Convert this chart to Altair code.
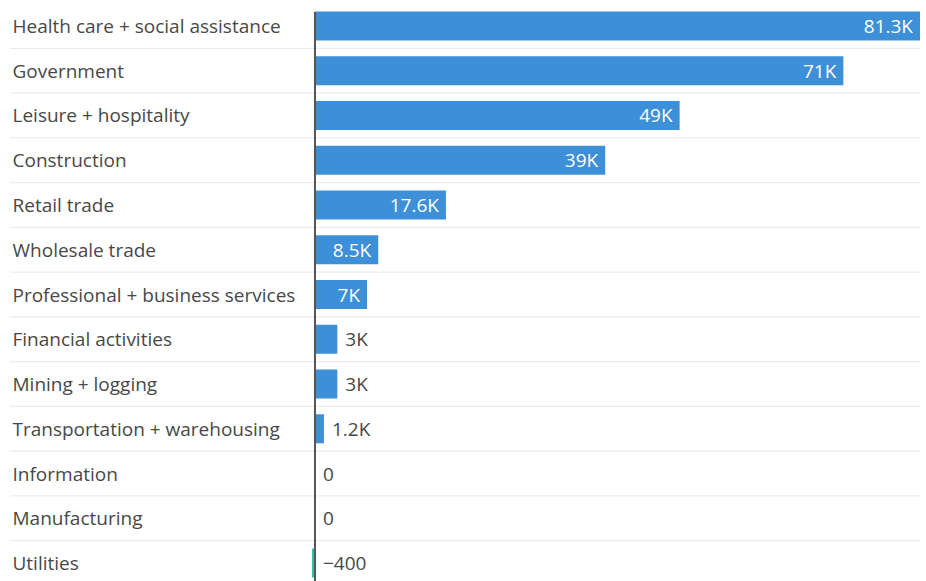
import altair as alt
import pandas as pd

industries = [
    "Health care + social assistance",
    "Government",
    "Leisure + hospitality",
    "Construction",
    "Retail trade",
    "Wholesale trade",
    "Professional + business services",
    "Financial activities",
    "Mining + logging",
    "Transportation + warehousing",
    "Information",
    "Manufacturing",
    "Utilities",
]
jobs = [81300, 71000, 49000, 39000, 17600, 8500, 7000, 3000, 3000, 1200, 0, 0, -400]
value_labels = ["81.3K", "71K", "49K", "39K", "17.6K", "8.5K", "7K", "3K", "3K", "1.2K", "0", "0", "\u2212400"]
inside = [True, True, True, True, True, True, True, False, False, False, False, False, False]

df = pd.DataFrame({
    "industry": industries,
    "jobs": jobs,
    "label": value_labels,
    "inside": inside,
})
df["pos"] = df["jobs"].clip(lower=0)
df["sign"] = df["jobs"].apply(lambda v: "neg" if v < 0 else "pos")
df["last"] = [i == len(industries) - 1 for i in range(len(industries))]

FONT = "Open Sans"
FS = 19
W = 608
H = 581

yscale = alt.Scale(domain=industries, range=[3.6, 585.4], paddingInner=0, paddingOuter=0)
xscale = alt.Scale(domain=[-400, 81300], nice=False, zero=False)

yaxis = alt.Axis(
    labelAlign="left",
    labelPadding=300,
    labelFont=FONT,
    labelFontSize=FS,
    labelColor="#484848",
    labelLimit=300,
    labelOffset=1,
    ticks=False,
    domain=False,
    grid=False,
    title=None,
)

base = alt.Chart(df)

seps = base.transform_filter("!datum.last").mark_rule(color="#e8e8e8", strokeWidth=1).encode(
    y=alt.Y("industry:N", sort=industries, scale=yscale, bandPosition=1, axis=yaxis),
    x=alt.value(-302),
    x2=alt.value(W),
)

bars = base.mark_bar(size=29).encode(
    y=alt.Y("industry:N", sort=industries, scale=yscale, axis=yaxis),
    x=alt.X("jobs:Q", scale=xscale, axis=None),
    x2=alt.datum(0),
    color=alt.Color(
        "sign:N",
        scale=alt.Scale(domain=["pos", "neg"], range=["#3d8fd8", "#2ec4a6"]),
        legend=None,
    ),
)

text_in = base.transform_filter("datum.inside").mark_text(
    align="right", baseline="middle", dx=-7, dy=1, font=FONT, fontSize=FS, fontWeight=500, color="white"
).encode(
    y=alt.Y("industry:N", sort=industries, scale=yscale),
    x=alt.X("jobs:Q", scale=xscale),
    text="label:N",
)

text_out = base.transform_filter("!datum.inside").mark_text(
    align="left", baseline="middle", dx=8, dy=1, font=FONT, fontSize=FS, color="#484848"
).encode(
    y=alt.Y("industry:N", sort=industries, scale=yscale),
    x=alt.X("pos:Q", scale=xscale),
    text="label:N",
)

zero = alt.Chart(pd.DataFrame({"z": [0]})).mark_rule(color="#555555", strokeWidth=2).encode(
    x=alt.X("z:Q", scale=xscale),
    y=alt.value(12),
    y2=alt.value(H),
)

chart = alt.layer(seps, bars, zero, text_in, text_out).properties(
    width=W,
    height=H,
    autosize=alt.AutoSizeParams(type="none"),
    padding={"left": 312, "top": 0, "right": 6, "bottom": 0},
).configure(background="white").configure_view(stroke=None, strokeWidth=0)

chart.save("out.html", embed_options={"renderer": "svg", "actions": False})
